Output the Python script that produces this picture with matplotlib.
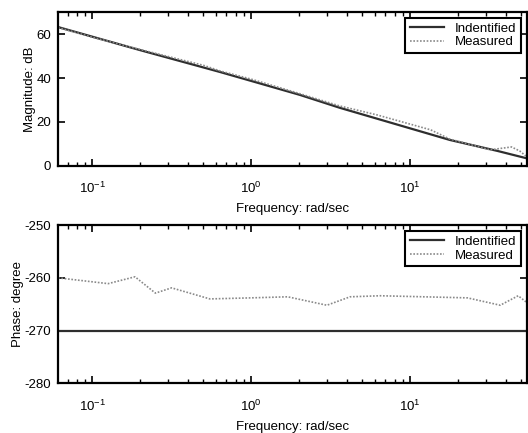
import numpy as np
import matplotlib
matplotlib.use('Agg')
import matplotlib.pyplot as plt

plt.rcParams['font.family'] = ['Liberation Sans', 'DejaVu Sans']
plt.rcParams['mathtext.fontset'] = 'custom'
plt.rcParams['mathtext.rm'] = 'Liberation Sans'
plt.rcParams['axes.unicode_minus'] = False

# magnitude data (rad/sec, dB)
mag_id_freq = [0.061, 0.2, 0.64, 2.03, 3.63, 17.8, 35.5, 54.5]
mag_id_db = [63.2, 52.7, 42.7, 32.3, 26.4, 11.8, 6.8, 3.4]

mag_meas_freq = [0.061, 0.1, 0.2, 0.35, 0.5, 0.64, 1.0, 2.0, 3.6, 6.2,
                 13.5, 17.8, 32, 43.6, 49, 54.5]
mag_meas_db = [63.0, 58.6, 53.0, 48.6, 45.8, 43.2, 39.5, 33.0, 27.3, 23.2,
               16.4, 12.2, 7.3, 8.6, 6.8, 4.1]

# phase data (rad/sec, degree)
ph_id_freq = [0.061, 54.5]
ph_id_deg = [-270, -270]

ph_meas_freq = [0.061, 0.126, 0.186, 0.25, 0.316, 0.55, 1.0, 1.7, 3.0, 4.2,
                6.5, 23, 37, 48, 54.5]
ph_meas_deg = [-260.0, -261.1, -259.8, -262.9, -261.9, -264.0, -263.8, -263.6,
               -265.2, -263.6, -263.4, -263.8, -265.2, -263.4, -264.7]

line_col = '#2e2e2e'
dot_col = '#8a8a8a'
fs = 9.5

fig = plt.figure(figsize=(5.28, 4.33), dpi=100)
ax1 = fig.add_axes([0.110, 0.617, 0.888, 0.355])
ax2 = fig.add_axes([0.110, 0.115, 0.888, 0.365])


def style(ax, ylabel):
    ax.set_xscale('log')
    ax.set_xlim(0.061, 54.5)
    ax.tick_params(which='both', direction='in', top=True, right=True, labelsize=fs)
    ax.tick_params(which='major', length=5, width=1.2)
    ax.tick_params(which='minor', length=3, width=1)
    ax.tick_params(axis='x', which='major', pad=11)
    ax.tick_params(axis='y', which='major', pad=5)
    for sp in ax.spines.values():
        sp.set_linewidth(1.6)
    ax.set_xlabel('Frequency: rad/sec', fontsize=fs, labelpad=5)
    ax.set_ylabel(ylabel, fontsize=fs, labelpad=0.5)
    leg = ax.legend(loc='upper right', fontsize=fs, fancybox=False, framealpha=1,
                    edgecolor='black', handlelength=2.6, borderpad=0.35,
                    labelspacing=0.1, borderaxespad=0.45, handletextpad=0.8)
    leg.get_frame().set_linewidth(1.5)


ax1.plot(mag_id_freq, mag_id_db, color=line_col, lw=1.6, label='Indentified')
ax1.plot(mag_meas_freq, mag_meas_db, color=dot_col, lw=1.2, ls=(0, (1, 1)), label='Measured')
ax1.set_ylim(0, 70)
ax1.set_yticks([0, 20, 40, 60])
style(ax1, 'Magnitude: dB')

ax2.plot(ph_id_freq, ph_id_deg, color=line_col, lw=1.6, label='Indentified')
ax2.plot(ph_meas_freq, ph_meas_deg, color=dot_col, lw=1.2, ls=(0, (1, 1)), label='Measured')
ax2.set_ylim(-280, -250)
ax2.set_yticks([-280, -270, -260, -250])
style(ax2, 'Phase: degree')

fig.savefig('out.png', dpi=100)
